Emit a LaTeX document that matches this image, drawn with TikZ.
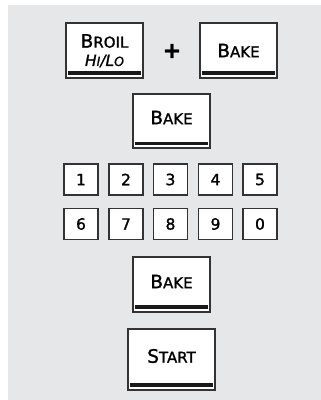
\documentclass[tikz,border=0pt]{standalone}
\usepackage{fontspec}
\setmainfont{DejaVu Sans}[FakeBold=1.3]
\newcommand{\sck}[2]{{\fontsize{18.5}{18.5}\selectfont #1}{\fontsize{15}{15}\selectfont #2}}
\newcommand{\scki}[2]{{\fontsize{15.5}{15.5}\selectfont\itshape #1}{\fontsize{12.5}{12.5}\selectfont\itshape #2}}
\definecolor{bggray}{HTML}{E6E7E8}
\definecolor{edge}{HTML}{333333}
\tikzset{
  keybox/.style={draw=edge, line width=1.3pt, fill=white, inner sep=0pt},
  bigkey/.style={keybox, minimum width=77pt, minimum height=55pt},
  startkey/.style={keybox, minimum width=87pt, minimum height=61pt},
  digitkey/.style={keybox, minimum width=34pt, minimum height=31pt, font=\fontsize{15.5}{15.5}\selectfont},
  keylabel/.style={inner sep=0pt, text=black},
  keybar/.style={line width=3.4pt, draw=black!90}
}
\begin{document}
\begin{tikzpicture}[x=1pt,y=-1pt]
\useasboundingbox (0,0) rectangle (321,400);
\fill[bggray] (8,5) rectangle (321,400);
% top row
\node[bigkey] (broil) at (104.5,50.5) {};
\node[keylabel] (broilt) at (104.5,41) {\sck{B}{ROIL}};
\node[keylabel] (hilo) at (104.5,61) {\scki{H}{I}{\fontsize{15.5}{15.5}\selectfont\itshape /}\scki{L}{O}};
\draw[keybar] ([xshift=2.5pt,yshift=5.5pt]broil.south west) -- ([xshift=-2.5pt,yshift=5.5pt]broil.south east);
\node[keylabel, font=\fontsize{22}{22}\selectfont\bfseries] (plus) at (172,51) {+};
\node[bigkey] (bake1) at (238.5,50.5) {};
\node[keylabel] (bake1t) at (238.5,50.5) {\sck{B}{AKE}};
\draw[keybar] ([xshift=2.5pt,yshift=5.5pt]bake1.south west) -- ([xshift=-2.5pt,yshift=5.5pt]bake1.south east);
% middle bake
\node[bigkey, minimum height=54pt] (bake2) at (171.5,121) {};
\node[keylabel] (bake2t) at (171.5,117.5) {\sck{B}{AKE}};
\draw[keybar] ([xshift=2.5pt,yshift=5pt]bake2.south west) -- ([xshift=-2.5pt,yshift=5pt]bake2.south east);
% digits
\node[digitkey] (d1) at (81,179.5) {1};
\node[digitkey] (d2) at (126,179.5) {2};
\node[digitkey] (d3) at (170.5,179.5) {3};
\node[digitkey] (d4) at (215.5,179.5) {4};
\node[digitkey] (d5) at (260,179.5) {5};
\node[digitkey] (d6) at (81,224) {6};
\node[digitkey] (d7) at (126,224) {7};
\node[digitkey] (d8) at (170.5,224) {8};
\node[digitkey] (d9) at (215.5,224) {9};
\node[digitkey] (d0) at (260,224) {0};
% lower bake
\node[bigkey] (bake3) at (171.5,284.5) {};
\node[keylabel] (bake3t) at (171.5,281.5) {\sck{B}{AKE}};
\draw[keybar] ([xshift=2.5pt,yshift=5.5pt]bake3.south west) -- ([xshift=-2.5pt,yshift=5.5pt]bake3.south east);
% start
\node[startkey] (start) at (171.5,359.5) {};
\node[keylabel] (startt) at (171.5,356) {\sck{S}{TART}};
\draw[keybar] ([xshift=2.5pt,yshift=5.5pt]start.south west) -- ([xshift=-2.5pt,yshift=5.5pt]start.south east);
\end{tikzpicture}
\end{document}
